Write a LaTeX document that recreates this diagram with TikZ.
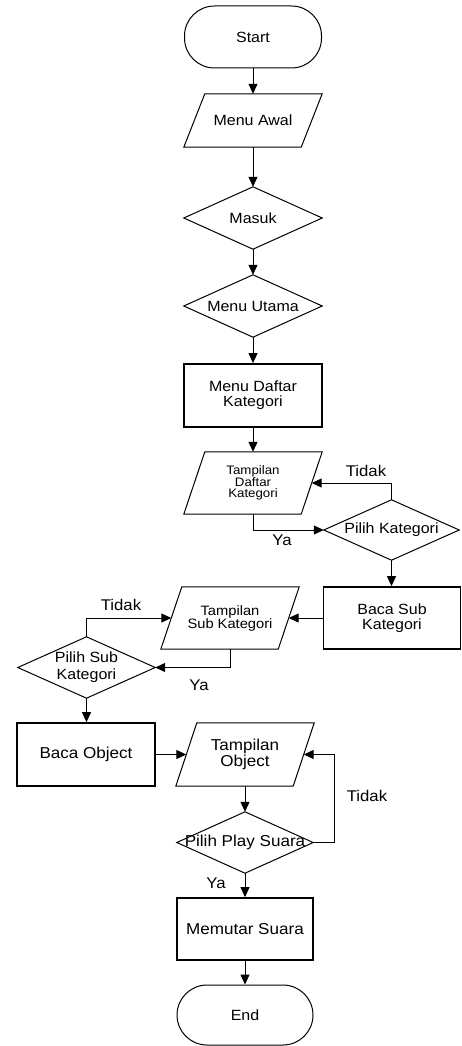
\documentclass[tikz,border=0pt]{standalone}
\usepackage{fontspec}
\setmainfont{Liberation Sans}[FakeStretch=1.08]
\usetikzlibrary{arrows.meta}
\begin{document}
\begin{tikzpicture}[x=1pt,y=-1pt,
  line/.style={line width=1pt},
  arr/.style={line, -{Triangle[length=10pt,width=9pt]}},
  term/.style={draw, line width=1pt, minimum width=137pt, minimum height=62pt, rounded corners=30pt, inner sep=0pt, font=\fontsize{14.8}{15.5}\selectfont},
  proc/.style={draw, line width=1.7pt, minimum width=138pt, minimum height=63pt, inner sep=0pt, align=center, font=\fontsize{14.8}{14.8}\selectfont},
  dia/.style={minimum width=138pt, minimum height=62pt, inner sep=0pt, align=center, font=\fontsize{14.8}{16.8}\selectfont},
  para/.style={minimum width=117pt, minimum height=62pt, inner sep=0pt, align=center, font=\fontsize{14.8}{15}\selectfont},
  lbl/.style={inner sep=0pt, font=\fontsize{15.5}{15.5}\selectfont},
  big/.style={font=\fontsize{15.8}{16.3}\selectfont}
  ]
\useasboundingbox (0,0) rectangle (462,1046);

\node[term] (start) at (253,37) {Start};
\node[para, minimum height=53pt] (menuawal) at (253,120.5) {Menu Awal};
\node[dia] (masuk) at (253,218) {Masuk};
\node[dia] (utama) at (253,306) {Menu Utama};
\node[proc] (daftar) at (253,395.5) {Menu Daftar\\Kategori};
\node[para, font=\fontsize{12.3}{11.5}\selectfont] (tdk) at (253,483) {Tampilan\\Daftar\\Kategori};
\node[dia, minimum width=135pt, minimum height=60pt] (pk) at (391.5,530) {Pilih Kategori};
\node[proc, minimum width=137pt, minimum height=62pt] (bsk) at (392,618) {Baca Sub\\Kategori};
\node[para, font=\fontsize{13.6}{13}\selectfont] (tsk) at (230,618) {Tampilan\\Sub Kategori};
\node[dia, minimum width=137pt, minimum height=61pt] (psk) at (86.5,667.5) {Pilih Sub\\Kategori};
\node[proc, big] (bob) at (86,754.5) {Baca Object};
\node[para, minimum height=63pt, big] (tob) at (245,754.5) {Tampilan\\Object};
\node[dia, minimum width=136pt, minimum height=61pt, big] (pps) at (245,842.5) {Pilih Play Suara};
\node[proc, minimum width=136pt, minimum height=62pt, big] (mem) at (245,929) {Memutar Suara};
\node[term, minimum width=136pt, minimum height=60pt] (end) at (245,1015) {End};

% outlines of diamonds
\foreach \n in {masuk,utama,pk,psk,pps}
  \draw[line] (\n.north) -- (\n.east) -- (\n.south) -- (\n.west) -- cycle;
% outlines of parallelograms
\foreach \n in {menuawal,tdk,tsk,tob}
  \draw[line] ([xshift=10.5pt]\n.north west) -- ([xshift=10.5pt]\n.north east)
     -- ([xshift=-10.5pt]\n.south east) -- ([xshift=-10.5pt]\n.south west) -- cycle;

% labels
\node[lbl] (ya1) at (282,540) {Ya};
\node[lbl] (tidak1) at (366,471) {Tidak};
\node[lbl] (ya2) at (199,685) {Ya};
\node[lbl] (tidak2) at (121,605) {Tidak};
\node[lbl] (tidak3) at (367,796) {Tidak};
\node[lbl] (ya3) at (216,883) {Ya};

\coordinate (c1) at (334,842.5);

% connectors
\draw[arr] (start.south) -- (menuawal.north);
\draw[arr] (menuawal.south) -- (masuk.north);
\draw[arr] (masuk.south) -- (utama.north);
\draw[arr] (utama.south) -- (daftar.north);
\draw[arr] (daftar.south) -- (tdk.north);
\draw[arr] (tdk.south) |- (pk.west);
\draw[arr] (pk.north) |- (tdk.east);
\draw[arr] (pk.south) -- (pk.south |- bsk.north);
\draw[arr] (bsk.west) -- (tsk.east);
\draw[arr] (tsk.south) |- (psk.east);
\draw[arr] (psk.north) |- (tsk.west);
\draw[arr] (psk.south) -- (psk.south |- bob.north);
\draw[arr] (bob.east) -- (tob.west);
\draw[arr] (tob.south) -- (pps.north);
\draw[arr] (pps.east) -- (c1) |- (tob.east);
\draw[arr] (pps.south) -- (mem.north);
\draw[arr] (mem.south) -- (end.north);
\end{tikzpicture}
\end{document}
